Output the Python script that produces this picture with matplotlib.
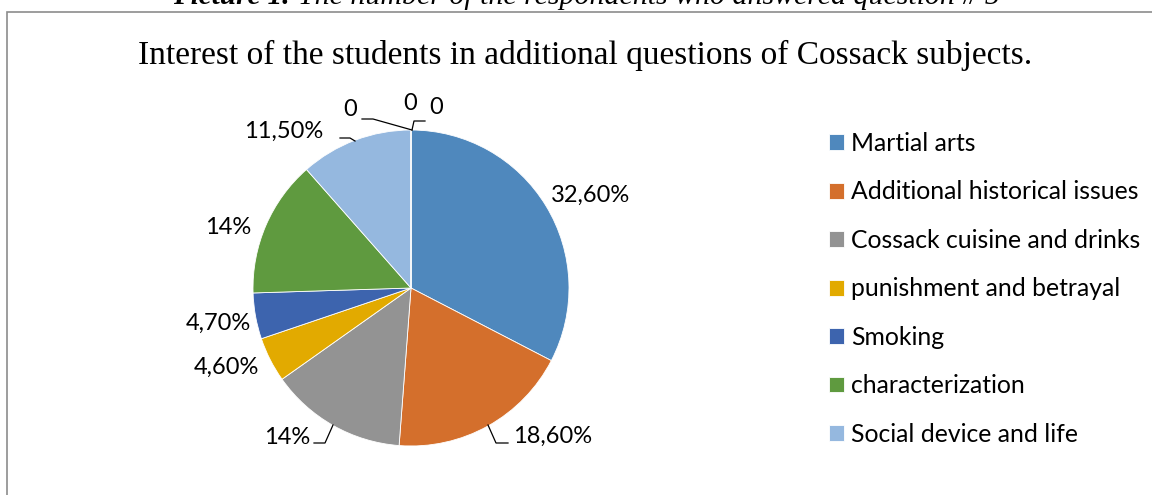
import numpy as np
import matplotlib.pyplot as plt
from matplotlib.patches import Rectangle

categories = ['Martial arts', 'Additional historical issues', 'Cossack cuisine and drinks',
              'punishment and betrayal', 'Smoking', 'characterization', 'Social device and life',
              '', '', '']
values = [32.6, 18.6, 14, 4.6, 4.7, 14, 11.5, 0, 0, 0]
labels = ['32,60%', '18,60%', '14%', '4,60%', '4,70%', '14%', '11,50%', '0', '0', '0']
colors = ['#4f88bd', '#d46f2c', '#939393', '#e2aa00', '#3d64ae', '#5f9a3f', '#95b8df',
          '#4f88bd', '#d46f2c', '#939393']

W, H = 1152, 495
fig = plt.figure(figsize=(W / 100, H / 100), dpi=100)
ax = fig.add_axes([0, 0, 1, 1])

sans = ['Lato', 'DejaVu Sans']
serif = ['Liberation Serif', 'DejaVu Serif']

cx, cy, r = 411, H - 288, 158
wedges, _ = ax.pie(values, colors=colors, startangle=90, counterclock=False,
                   center=(cx, cy), radius=r, frame=True,
                   wedgeprops=dict(edgecolor='white', linewidth=0.6))
ax.set_xlim(0, W)
ax.set_ylim(0, H)
ax.set_aspect('equal')
ax.axis('off')

# chart frame (runs off the right and bottom)
ax.add_patch(Rectangle((7, -20), W + 20, H - 12 + 20, fill=False,
                       edgecolor='#8c8c8c', lw=1.2))

# caption cut off at top
ax.text(290, H - 4, 'Picture 1.', ha='right', va='baseline', fontsize=21,
        family=serif, weight='bold', style='italic')
ax.text(298, H - 4, 'The number of the respondents who answered question # 5',
        ha='left', va='baseline', fontsize=21.5, family=serif, style='italic')

ax.text(585, H - 55, 'Interest of the students in additional questions of Cossack subjects.',
        ha='center', va='center', fontsize=24, family=serif)

# label positions (pixel coords, y from top)
label_pos = [(591, 195), (553, 436), (287, 437), (226, 367), (218, 323),
             (228, 227), (284, 131), (350, 110), (410, 103), (436, 107)]
for lab, (x, y) in zip(labels, label_pos):
    ax.text(x, H - y, lab, ha='center', va='center', fontsize=17, family=sans)

# leader lines
leaders = [
    [(488, 425), (496, 443), (508, 443)],
    [(333, 425), (325, 443), (314, 443)],
    [(355, 141), (350, 138), (340, 138)],
    [(412, 130), (373, 119), (362, 119)],
    [(412, 130), (414, 121), (425, 121)],
]
for pts in leaders:
    xs = [p[0] for p in pts]
    ys = [H - p[1] for p in pts]
    ax.plot(xs, ys, color='black', lw=0.9)

leg = ax.legend(wedges[:7], categories[:7], loc='upper left',
                bbox_to_anchor=(829 / W, 1 - 132 / H), frameon=False,
                prop={'family': sans, 'size': 17.8}, handlelength=0.6,
                handleheight=0.6, handletextpad=0.3, labelspacing=1.03,
                borderaxespad=0, borderpad=0)

fig.savefig('out.png', dpi=100)
